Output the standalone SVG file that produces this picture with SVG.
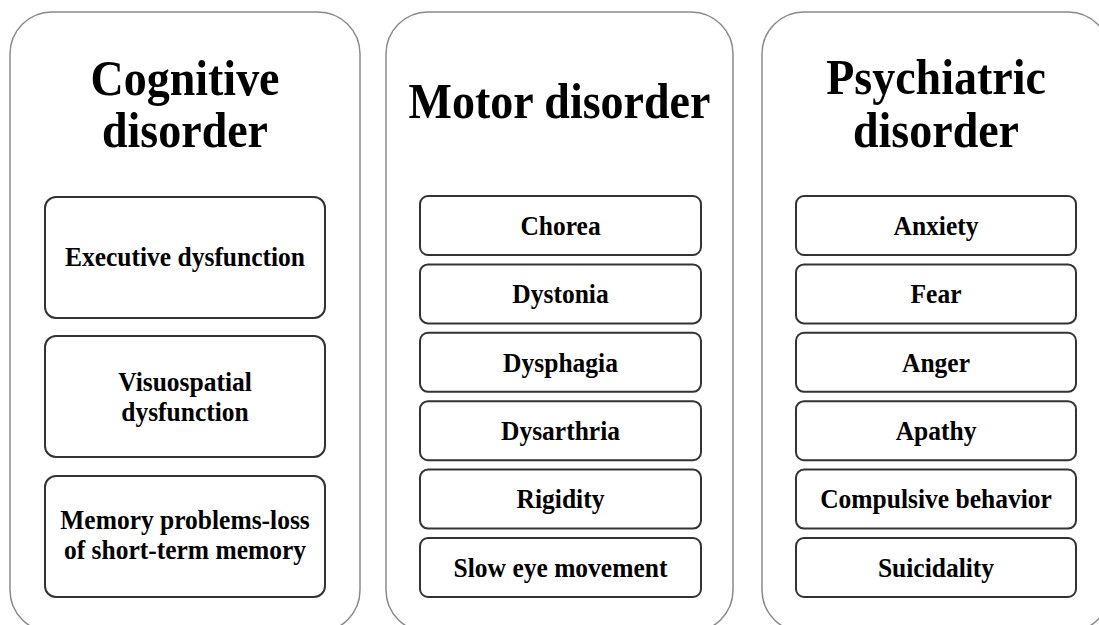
<svg xmlns="http://www.w3.org/2000/svg" width="1099" height="625" viewBox="0 0 1099 625">
<style>
.panel{fill:#fff;stroke:#8a8a8a;stroke-width:1.5}
.box{fill:#fff;stroke:#333;stroke-width:2}
.t{font-family:"Liberation Serif","Times New Roman",serif;font-weight:bold;text-anchor:middle;fill:#000}
.h{font-size:46px}
.b{font-size:25.5px}
</style>
<rect width="1099" height="625" fill="#fff"/>
<g id="cognitive">
<rect class="panel" x="10" y="12" width="350" height="620" rx="42"/>
<text class="t h" transform="translate(185,95) scale(1,1.1)">Cognitive</text>
<text class="t h" transform="translate(185,147) scale(1,1.1)">disorder</text>
<g id="c1"><rect class="box" x="45" y="197" width="280" height="121" rx="11"/><text class="t b" transform="translate(185,266) scale(1,1.1)">Executive dysfunction</text></g>
<g id="c2"><rect class="box" x="45" y="336" width="280" height="121" rx="11"/><text class="t b" transform="translate(185,391) scale(1,1.1)">Visuospatial</text><text class="t b" transform="translate(185,421) scale(1,1.1)">dysfunction</text></g>
<g id="c3"><rect class="box" x="45" y="476" width="280" height="121" rx="11"/><text class="t b" transform="translate(185,529) scale(1,1.1)">Memory problems-loss</text><text class="t b" transform="translate(185,559) scale(1,1.1)">of short-term memory</text></g>
</g>
<g id="motor">
<rect class="panel" x="386" y="12" width="347" height="620" rx="42"/>
<text class="t h" transform="translate(559.5,118) scale(1,1.1)">Motor disorder</text>
<g id="m1"><rect class="box" x="420" y="196" width="281" height="59" rx="8"/><text class="t b" transform="translate(560.5,235) scale(1,1.1)">Chorea</text></g>
<g id="m2"><rect class="box" x="420" y="264.4" width="281" height="59" rx="8"/><text class="t b" transform="translate(560.5,303) scale(1,1.1)">Dystonia</text></g>
<g id="m3"><rect class="box" x="420" y="332.8" width="281" height="59" rx="8"/><text class="t b" transform="translate(560.5,371.5) scale(1,1.1)">Dysphagia</text></g>
<g id="m4"><rect class="box" x="420" y="401.2" width="281" height="59" rx="8"/><text class="t b" transform="translate(560.5,440) scale(1,1.1)">Dysarthria</text></g>
<g id="m5"><rect class="box" x="420" y="469.6" width="281" height="59" rx="8"/><text class="t b" transform="translate(560.5,508) scale(1,1.1)">Rigidity</text></g>
<g id="m6"><rect class="box" x="420" y="538" width="281" height="59" rx="8"/><text class="t b" transform="translate(560.5,576.5) scale(1,1.1)">Slow eye movement</text></g>
</g>
<g id="psychiatric">
<rect class="panel" x="762" y="12" width="348" height="620" rx="42"/>
<text class="t h" transform="translate(936,94) scale(1,1.1)">Psychiatric</text>
<text class="t h" transform="translate(936,147) scale(1,1.1)">disorder</text>
<g id="p1"><rect class="box" x="796" y="196" width="280" height="59" rx="8"/><text class="t b" transform="translate(936,235) scale(1,1.1)">Anxiety</text></g>
<g id="p2"><rect class="box" x="796" y="264.4" width="280" height="59" rx="8"/><text class="t b" transform="translate(936,303) scale(1,1.1)">Fear</text></g>
<g id="p3"><rect class="box" x="796" y="332.8" width="280" height="59" rx="8"/><text class="t b" transform="translate(936,371.5) scale(1,1.1)">Anger</text></g>
<g id="p4"><rect class="box" x="796" y="401.2" width="280" height="59" rx="8"/><text class="t b" transform="translate(936,440) scale(1,1.1)">Apathy</text></g>
<g id="p5"><rect class="box" x="796" y="469.6" width="280" height="59" rx="8"/><text class="t b" transform="translate(936,508) scale(1,1.1)">Compulsive behavior</text></g>
<g id="p6"><rect class="box" x="796" y="538" width="280" height="59" rx="8"/><text class="t b" transform="translate(936,576.5) scale(1,1.1)">Suicidality</text></g>
</g>
<g id="connectors"/>
</svg>
